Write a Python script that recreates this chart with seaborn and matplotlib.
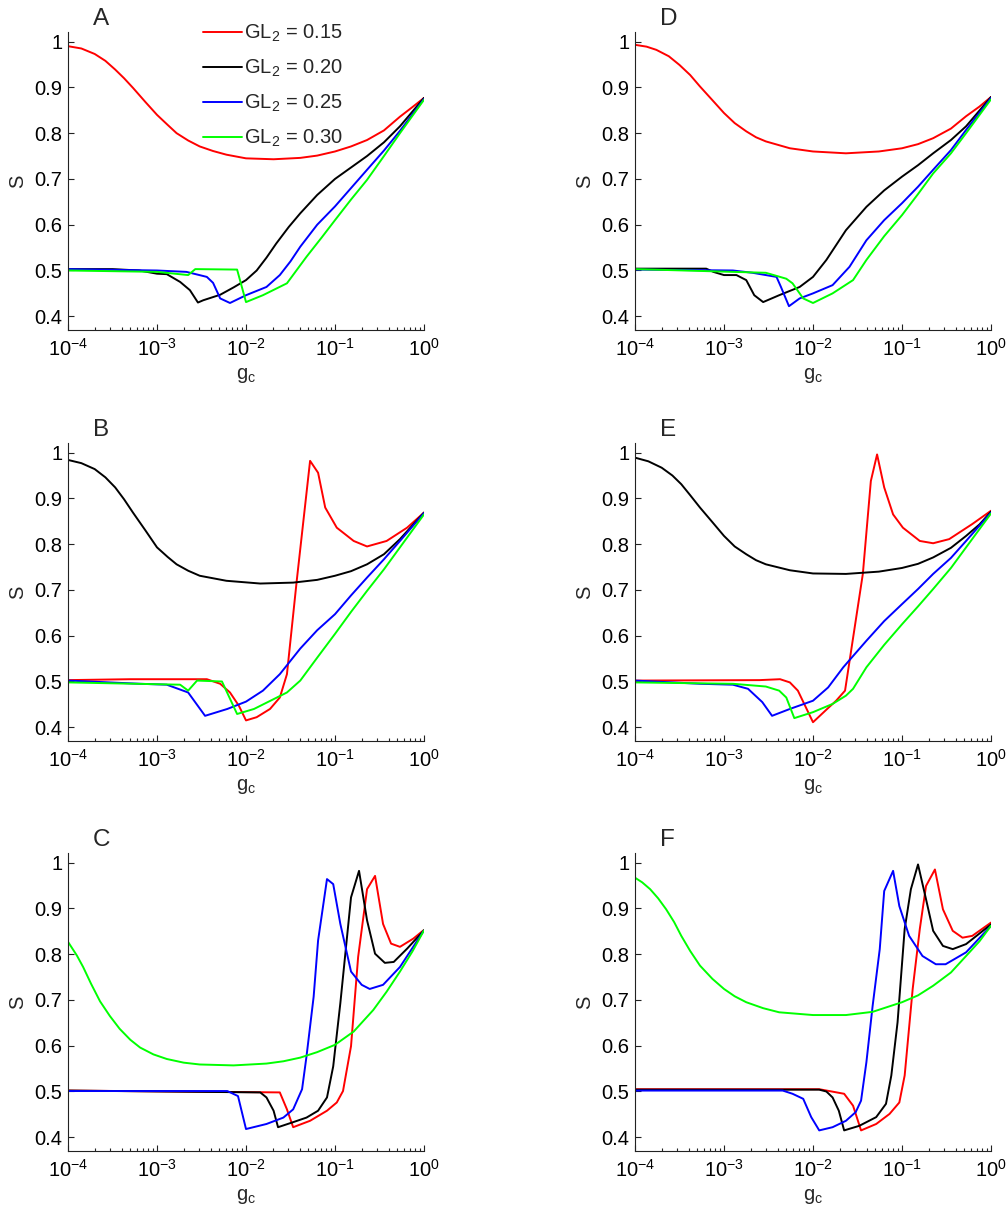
import numpy as np
import pandas as pd
import matplotlib
matplotlib.use("Agg")
import matplotlib.pyplot as plt
import matplotlib.ticker as mticker
import seaborn as sns

# ---------------- data: log10(g_c) positions and S values ----------------
A_red_lg = [-4, -3.85, -3.7, -3.58, -3.47, -3.37, -3.27, -3.13, -3.0, -2.88, -2.78, -2.65, -2.52, -2.37, -2.22, -2.0, -1.69, -1.39, -1.2, -1.0, -0.82, -0.64, -0.45, -0.27, -0.13, 0]
A_red_s = [0.99, 0.985, 0.973, 0.958, 0.939, 0.92, 0.899, 0.868, 0.84, 0.818, 0.80, 0.784, 0.771, 0.761, 0.753, 0.745, 0.743, 0.746, 0.751, 0.76, 0.771, 0.785, 0.806, 0.836, 0.857, 0.877]
A_black_lg = [-4, -3.5, -3.2, -3.0, -2.89, -2.74, -2.63, -2.54, -2.48, -2.29, -2.14, -2.0, -1.88, -1.77, -1.66, -1.52, -1.39, -1.2, -1.0, -0.82, -0.64, -0.45, -0.27, 0]
A_black_s = [0.503, 0.503, 0.5, 0.493, 0.492, 0.475, 0.457, 0.43, 0.435, 0.447, 0.463, 0.479, 0.5, 0.528, 0.559, 0.595, 0.625, 0.665, 0.70, 0.725, 0.75, 0.78, 0.815, 0.877]
A_blue_lg = [-4, -3.0, -2.67, -2.44, -2.37, -2.29, -2.18, -2.0, -1.77, -1.62, -1.5, -1.39, -1.2, -1.0, -0.82, -0.64, -0.45, -0.27, 0]
A_blue_s = [0.503, 0.5, 0.497, 0.486, 0.473, 0.439, 0.429, 0.446, 0.464, 0.49, 0.52, 0.552, 0.6, 0.64, 0.68, 0.72, 0.762, 0.805, 0.875]
A_green_lg = [-4, -3.0, -2.65, -2.57, -2.1, -2.0, -1.81, -1.54, -1.32, -1.15, -1.0, -0.82, -0.64, -0.45, -0.27, 0]
A_green_s = [0.5, 0.497, 0.49, 0.503, 0.502, 0.431, 0.446, 0.472, 0.53, 0.572, 0.61, 0.655, 0.698, 0.75, 0.8, 0.873]

B_red_lg = [-4, -3.3, -2.6, -2.44, -2.29, -2.18, -2.08, -2.0, -1.88, -1.73, -1.62, -1.54, -1.43, -1.28, -1.19, -1.11, -0.98, -0.79, -0.64, -0.42, -0.19, 0]
B_red_s = [0.503, 0.505, 0.505, 0.505, 0.495, 0.476, 0.447, 0.415, 0.422, 0.44, 0.465, 0.516, 0.72, 0.982, 0.956, 0.88, 0.836, 0.807, 0.795, 0.807, 0.836, 0.869]
B_black_lg = [-4, -3.85, -3.7, -3.58, -3.47, -3.37, -3.27, -3.13, -3.0, -2.88, -2.78, -2.65, -2.52, -2.22, -1.84, -1.47, -1.2, -1.0, -0.82, -0.64, -0.45, -0.27, 0]
B_black_s = [0.984, 0.977, 0.964, 0.946, 0.924, 0.898, 0.869, 0.83, 0.793, 0.772, 0.756, 0.742, 0.731, 0.72, 0.714, 0.716, 0.722, 0.731, 0.741, 0.756, 0.778, 0.811, 0.869]
B_blue_lg = [-4, -3.19, -2.89, -2.65, -2.46, -2.21, -2.0, -1.81, -1.62, -1.39, -1.2, -1.0, -0.82, -0.64, -0.45, -0.27, 0]
B_blue_s = [0.502, 0.495, 0.493, 0.476, 0.425, 0.44, 0.456, 0.48, 0.516, 0.572, 0.612, 0.647, 0.688, 0.727, 0.767, 0.807, 0.868]
B_green_lg = [-4, -2.74, -2.65, -2.55, -2.27, -2.1, -1.91, -1.54, -1.39, -1.2, -1.0, -0.82, -0.64, -0.45, -0.27, 0]
B_green_s = [0.498, 0.493, 0.48, 0.502, 0.5, 0.429, 0.44, 0.476, 0.502, 0.552, 0.604, 0.652, 0.698, 0.745, 0.793, 0.865]

C_red_lg = [-4, -1.62, -1.54, -1.47, -1.28, -1.09, -0.98, -0.91, -0.82, -0.74, -0.64, -0.55, -0.46, -0.37, -0.27, -0.12, 0]
C_red_s = [0.502, 0.498, 0.461, 0.422, 0.436, 0.458, 0.476, 0.501, 0.599, 0.794, 0.942, 0.971, 0.866, 0.823, 0.816, 0.834, 0.853]
C_black_lg = [-4, -1.84, -1.77, -1.69, -1.64, -1.47, -1.32, -1.19, -1.09, -1.02, -0.94, -0.82, -0.73, -0.64, -0.55, -0.44, -0.34, -0.19, 0]
C_black_s = [0.502, 0.498, 0.487, 0.458, 0.422, 0.433, 0.443, 0.458, 0.487, 0.555, 0.693, 0.924, 0.982, 0.874, 0.801, 0.781, 0.783, 0.812, 0.852]
C_blue_lg = [-4, -2.21, -2.09, -2.0, -1.77, -1.58, -1.47, -1.37, -1.32, -1.24, -1.19, -1.09, -1.02, -0.94, -0.82, -0.70, -0.61, -0.46, -0.27, 0]
C_blue_s = [0.501, 0.501, 0.49, 0.418, 0.429, 0.443, 0.461, 0.505, 0.577, 0.707, 0.83, 0.964, 0.953, 0.866, 0.762, 0.733, 0.724, 0.733, 0.772, 0.852]
C_green_lg = [-4, -3.9, -3.83, -3.74, -3.64, -3.53, -3.42, -3.3, -3.19, -3.04, -2.89, -2.7, -2.52, -2.14, -1.77, -1.58, -1.39, -1.2, -1.0, -0.79, -0.57, -0.42, -0.27, -0.13, 0]
C_green_s = [0.827, 0.797, 0.772, 0.735, 0.697, 0.665, 0.637, 0.613, 0.596, 0.581, 0.571, 0.563, 0.559, 0.557, 0.561, 0.566, 0.574, 0.586, 0.602, 0.631, 0.678, 0.718, 0.762, 0.806, 0.852]

D_red_lg = [-4, -3.87, -3.76, -3.62, -3.5, -3.38, -3.27, -3.13, -3.0, -2.88, -2.75, -2.64, -2.53, -2.26, -2.0, -1.63, -1.26, -1.0, -0.82, -0.65, -0.45, -0.28, -0.13, 0]
D_red_s = [0.993, 0.989, 0.982, 0.968, 0.949, 0.927, 0.902, 0.872, 0.844, 0.822, 0.804, 0.791, 0.782, 0.767, 0.76, 0.756, 0.76, 0.767, 0.776, 0.789, 0.81, 0.837, 0.858, 0.879]
D_black_lg = [-4, -3.2, -3.12, -3.0, -2.86, -2.75, -2.66, -2.56, -2.38, -2.15, -2.0, -1.85, -1.63, -1.40, -1.2, -1.0, -0.82, -0.65, -0.45, -0.28, 0]
D_black_s = [0.504, 0.504, 0.497, 0.49, 0.49, 0.479, 0.446, 0.431, 0.446, 0.464, 0.486, 0.523, 0.588, 0.639, 0.675, 0.705, 0.73, 0.756, 0.785, 0.815, 0.879]
D_blue_lg = [-4, -2.9, -2.68, -2.41, -2.36, -2.27, -2.15, -2.0, -1.78, -1.59, -1.40, -1.2, -1.0, -0.82, -0.65, -0.45, -0.28, 0]
D_blue_s = [0.502, 0.5, 0.495, 0.486, 0.464, 0.422, 0.439, 0.45, 0.468, 0.508, 0.566, 0.61, 0.647, 0.683, 0.72, 0.763, 0.807, 0.877]
D_green_lg = [-4, -2.53, -2.30, -2.23, -2.11, -2.0, -1.78, -1.55, -1.40, -1.2, -1.0, -0.82, -0.65, -0.45, -0.28, 0]
D_green_s = [0.503, 0.495, 0.482, 0.472, 0.439, 0.429, 0.45, 0.479, 0.523, 0.575, 0.621, 0.667, 0.712, 0.756, 0.8, 0.874]

E_red_lg = [-4, -2.6, -2.37, -2.26, -2.17, -2.0, -1.83, -1.74, -1.64, -1.44, -1.35, -1.28, -1.2, -1.1, -0.99, -0.8, -0.65, -0.47, -0.21, 0]
E_red_s = [0.502, 0.503, 0.505, 0.498, 0.48, 0.411, 0.442, 0.458, 0.48, 0.735, 0.938, 0.996, 0.924, 0.865, 0.836, 0.807, 0.802, 0.811, 0.844, 0.873]
E_black_lg = [-4, -3.85, -3.7, -3.58, -3.48, -3.38, -3.27, -3.13, -3.0, -2.88, -2.75, -2.64, -2.53, -2.26, -2.0, -1.63, -1.26, -1.0, -0.82, -0.65, -0.45, -0.28, -0.13, 0]
E_black_s = [0.989, 0.981, 0.967, 0.95, 0.931, 0.907, 0.88, 0.848, 0.818, 0.795, 0.778, 0.765, 0.756, 0.743, 0.736, 0.735, 0.74, 0.748, 0.757, 0.771, 0.792, 0.818, 0.843, 0.871]
E_blue_lg = [-4, -3.27, -2.9, -2.73, -2.57, -2.46, -2.26, -2.0, -1.83, -1.66, -1.40, -1.2, -1.0, -0.82, -0.65, -0.45, -0.28, 0]
E_blue_s = [0.502, 0.495, 0.493, 0.484, 0.455, 0.425, 0.44, 0.458, 0.487, 0.531, 0.589, 0.632, 0.669, 0.702, 0.735, 0.77, 0.807, 0.869]
E_green_lg = [-4, -2.9, -2.53, -2.38, -2.30, -2.21, -2.0, -1.78, -1.63, -1.55, -1.40, -1.2, -1.0, -0.82, -0.65, -0.45, -0.28, 0]
E_green_s = [0.498, 0.495, 0.489, 0.48, 0.465, 0.42, 0.433, 0.451, 0.469, 0.484, 0.531, 0.58, 0.625, 0.664, 0.702, 0.748, 0.793, 0.867]

F_red_lg = [-4, -1.93, -1.65, -1.55, -1.46, -1.29, -1.14, -1.03, -0.97, -0.88, -0.80, -0.73, -0.63, -0.54, -0.43, -0.32, -0.21, 0]
F_red_s = [0.505, 0.505, 0.495, 0.469, 0.415, 0.429, 0.451, 0.476, 0.535, 0.724, 0.855, 0.949, 0.985, 0.898, 0.851, 0.836, 0.84, 0.869]
F_black_lg = [-4, -1.93, -1.85, -1.78, -1.71, -1.65, -1.48, -1.29, -1.18, -1.12, -1.05, -0.97, -0.90, -0.82, -0.73, -0.65, -0.54, -0.43, -0.28, 0]
F_black_s = [0.504, 0.504, 0.5, 0.487, 0.458, 0.415, 0.425, 0.444, 0.473, 0.535, 0.651, 0.855, 0.942, 0.996, 0.92, 0.851, 0.818, 0.811, 0.822, 0.865]
F_blue_lg = [-4, -2.34, -2.23, -2.11, -2.02, -1.93, -1.78, -1.63, -1.52, -1.46, -1.40, -1.33, -1.25, -1.2, -1.1, -1.03, -0.92, -0.77, -0.62, -0.51, -0.28, 0]
F_blue_s = [0.502, 0.502, 0.495, 0.484, 0.444, 0.415, 0.422, 0.436, 0.455, 0.48, 0.564, 0.687, 0.811, 0.938, 0.982, 0.905, 0.84, 0.796, 0.778, 0.778, 0.804, 0.862]
F_green_lg = [-4, -3.92, -3.83, -3.74, -3.65, -3.56, -3.48, -3.38, -3.27, -3.13, -3.0, -2.88, -2.75, -2.56, -2.38, -2.0, -1.63, -1.33, -1.0, -0.82, -0.65, -0.45, -0.28, -0.13, 0]
F_green_s = [0.967, 0.957, 0.942, 0.922, 0.898, 0.87, 0.84, 0.807, 0.775, 0.746, 0.724, 0.708, 0.695, 0.682, 0.673, 0.667, 0.667, 0.674, 0.695, 0.71, 0.731, 0.76, 0.796, 0.828, 0.862]

series_labels = ["GL$_2$ = 0.15", "GL$_2$ = 0.20", "GL$_2$ = 0.25", "GL$_2$ = 0.30"]
series_colors = ["#ff0000", "#000000", "#0000ff", "#00ff00"]
panel_names = ["A", "B", "C", "D", "E", "F"]
y_ticks = [0.4, 0.5, 0.6, 0.7, 0.8, 0.9, 1.0]
y_ticklabels = ["0.4", "0.5", "0.6", "0.7", "0.8", "0.9", "1"]
x_ticks = [1e-4, 1e-3, 1e-2, 1e-1, 1e0]

panels = {
    "A": [(A_red_lg, A_red_s), (A_black_lg, A_black_s), (A_blue_lg, A_blue_s), (A_green_lg, A_green_s)],
    "B": [(B_red_lg, B_red_s), (B_black_lg, B_black_s), (B_blue_lg, B_blue_s), (B_green_lg, B_green_s)],
    "C": [(C_red_lg, C_red_s), (C_black_lg, C_black_s), (C_blue_lg, C_blue_s), (C_green_lg, C_green_s)],
    "D": [(D_red_lg, D_red_s), (D_black_lg, D_black_s), (D_blue_lg, D_blue_s), (D_green_lg, D_green_s)],
    "E": [(E_red_lg, E_red_s), (E_black_lg, E_black_s), (E_blue_lg, E_blue_s), (E_green_lg, E_green_s)],
    "F": [(F_red_lg, F_red_s), (F_black_lg, F_black_s), (F_blue_lg, F_blue_s), (F_green_lg, F_green_s)],
}

# ---------------- style ----------------
sns.set_theme(style="ticks")
plt.rcParams["font.family"] = ["Liberation Sans", "DejaVu Sans"]
plt.rcParams["mathtext.fontset"] = "custom"
plt.rcParams["mathtext.rm"] = "Liberation Sans"
plt.rcParams["mathtext.it"] = "Liberation Sans:italic"
plt.rcParams["mathtext.default"] = "regular"
plt.rcParams["axes.linewidth"] = 0.8
plt.rcParams["axes.edgecolor"] = "#222222"

fig = plt.figure(figsize=(10.08, 12.16), dpi=100)
W, H = 1008.0, 1216.0
col_left = [68, 635]
col_w = 356
row_top = [32, 443, 853]
row_h = 298

FS = 14.5

positions = {
    "A": (0, 0), "B": (0, 1), "C": (0, 2),
    "D": (1, 0), "E": (1, 1), "F": (1, 2),
}

for name in panel_names:
    c, r = positions[name]
    ax = fig.add_axes([col_left[c] / W, 1 - (row_top[r] + row_h) / H, col_w / W, row_h / H])
    for (lg, s), color, lab in zip(panels[name], series_colors, series_labels):
        df = pd.DataFrame({"g_c": np.power(10.0, np.array(lg, dtype=float)), "S": s})
        sns.lineplot(data=df, x="g_c", y="S", ax=ax, color=color, linewidth=1.4,
                     sort=False, estimator=None, label=lab if name == "A" else None)
    ax.set_xscale("log")
    ax.set_xlim(1e-4, 1.0)
    ax.set_ylim(0.37, 1.021)
    ax.set_xticks(x_ticks)
    ax.xaxis.set_major_formatter(mticker.FuncFormatter(
        lambda v, p: "$10^{%d}$" % int(round(np.log10(v)))))
    ax.xaxis.set_minor_locator(mticker.LogLocator(base=10, subs=np.arange(2, 10), numticks=20))
    ax.xaxis.set_minor_formatter(mticker.NullFormatter())
    ax.set_yticks(y_ticks)
    ax.set_yticklabels(y_ticklabels)
    ax.tick_params(axis="both", which="major", direction="in", length=4, width=0.8,
                   labelsize=FS, colors="#222222", labelcolor="black")
    ax.tick_params(axis="x", which="major", pad=6)
    ax.tick_params(axis="y", which="major", pad=4)
    ax.tick_params(axis="x", which="minor", direction="in", length=2.5, width=0.8, colors="#222222")
    for sp in ["top", "right"]:
        ax.spines[sp].set_visible(False)
    ax.set_xlabel("g$_c$", fontsize=FS, labelpad=4)
    ax.set_ylabel("S", fontsize=FS, labelpad=5)
    ax.patch.set_alpha(0)
    ax.text(25 / col_w, 1 + 7 / row_h, name, transform=ax.transAxes, fontsize=17.5,
            ha="left", va="baseline")
    if name == "A":
        leg = ax.legend(loc="upper left", bbox_to_anchor=(0.378, 1.03), frameon=False,
                        fontsize=FS, handlelength=1.95, handletextpad=0.12,
                        labelspacing=0.68, borderpad=0, borderaxespad=0)
    else:
        lg_ = ax.get_legend()
        if lg_ is not None:
            lg_.remove()

fig.savefig("out.png", dpi=100, facecolor="white")
